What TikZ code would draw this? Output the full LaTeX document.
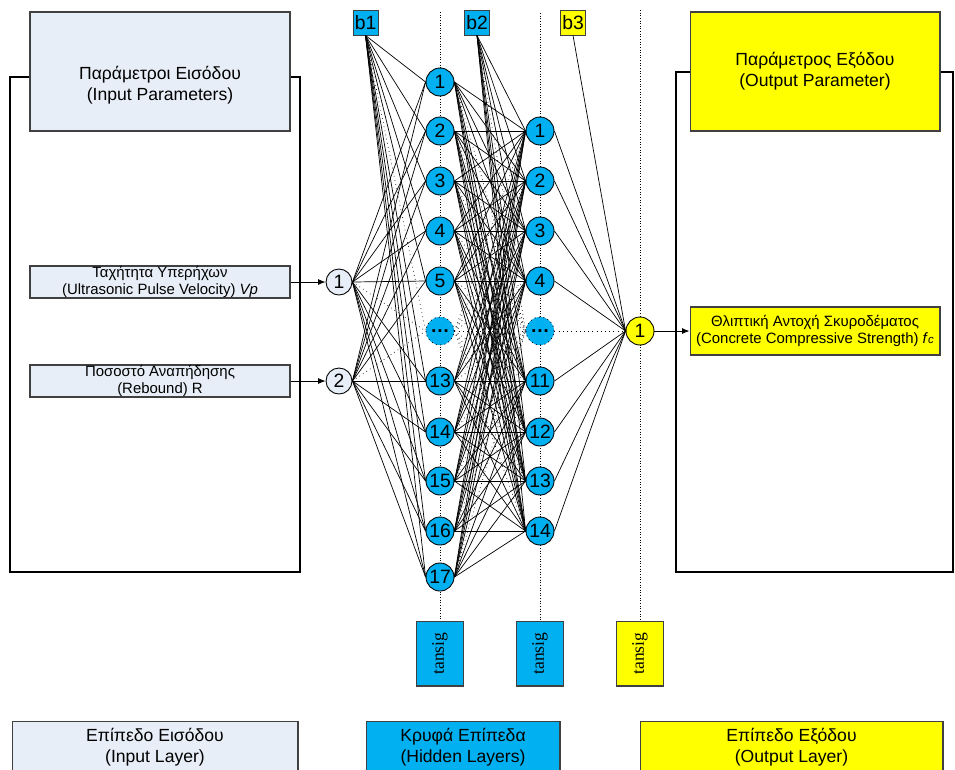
\documentclass[tikz,border=0pt]{standalone}
\usepackage{fontspec}
\setmainfont{Liberation Sans}
\newfontfamily\serifface{Liberation Serif}
\usepackage{xcolor}
\usetikzlibrary{arrows.meta, backgrounds}
\definecolor{paleblue}{HTML}{E8EEF7}
\definecolor{hiddenblue}{HTML}{00B0F0}
\definecolor{outyellow}{HTML}{FFFF00}

\begin{document}
\begin{tikzpicture}[
    x=0.02cm, y=-0.02cm,
    panel/.style={rectangle, draw=black!75, line width=0.6pt, inner sep=0pt, align=center, font=\fontsize{10}{12}\selectfont},
    param/.style={rectangle, draw=black!75, line width=0.6pt, inner sep=0pt, align=center, font=\fontsize{8.5}{9.5}\selectfont},
    neuron/.style={circle, draw=black, line width=0.5pt, fill=hiddenblue, minimum size=0.56cm, inner sep=0pt, font=\fontsize{11}{13}\selectfont},
    inneuron/.style={neuron, fill=paleblue, minimum size=0.52cm},
    bias/.style={rectangle, draw=black!75, line width=0.5pt, fill=hiddenblue, minimum size=0.5cm, inner sep=0pt, font=\fontsize{11}{13}\selectfont},
    tfbox/.style={rectangle, draw=black!75, line width=0.6pt, fill=hiddenblue, minimum width=0.94cm, minimum height=1.3cm, inner sep=0pt},
    link/.style={line width=0.4pt},
    plain/.style={},
    arrow/.style={-{Latex[length=1.5mm, width=1.2mm]}, line width=0.5pt}
]
\useasboundingbox (0,0) rectangle (955,769);

% outer frames
\draw[line width=0.6pt] (10,77) rectangle (300,572);
\draw[line width=0.6pt] (676,72) rectangle (953,572);

% parameter panels
\node[panel, fill=paleblue, minimum width=5.2cm, minimum height=2.38cm, text height=35pt] (inpar) at (160,71.5) {Παράμετροι Εισόδου\\(Input Parameters)};
\node[panel, fill=outyellow, minimum width=5cm, minimum height=2.38cm] (outpar) at (815,71.5) {Παράμετρος Εξόδου\\(Output Parameter)};

\node[param, fill=paleblue, minimum width=5.2cm, minimum height=0.64cm] (vp) at (160,282) {Ταχήτητα Υπερήχων\\(Ultrasonic Pulse Velocity) \textit{Vp}};
\node[param, fill=paleblue, minimum width=5.2cm, minimum height=0.64cm] (reb) at (160,381) {Ποσοστό Αναπήδησης\\(Rebound) R};
\node[param, fill=outyellow, minimum width=5cm, minimum height=0.96cm] (fc) at (815,331) {Θλιπτική Αντοχή Σκυροδέματος\\(Concrete Compressive Strength) \textit{f}{\fontsize{6.5}{7}\selectfont\textit{c}}};

% inputs and biases
\node[inneuron] (in1) at (339,282) {1};
\node[inneuron] (in2) at (339,381) {2};
\node[bias] (b1) at (365.5,22.5) {b1};
\node[bias] (b2) at (477,22.5) {b2};
\node[bias, fill=outyellow] (b3) at (573,22.5) {b3};

% hidden layers and output
\foreach \lbl/\yy/\st [count=\i] in {1/82/plain,2/131/plain,3/181/plain,4/231/plain,5/281/plain,{\textbf{\dots}}/331/dotted,13/381/plain,14/432/plain,15/481/plain,16/531/plain,17/577/plain}
    \node[neuron, \st] (h1-\i) at (440,\yy) {\lbl};
\foreach \lbl/\yy/\st [count=\i] in {1/131/plain,2/181/plain,3/231/plain,4/281/plain,{\textbf{\dots}}/331/dotted,11/381/plain,12/432/plain,13/481/plain,14/531/plain}
    \node[neuron, \st] (h2-\i) at (540,\yy) {\lbl};
\node[neuron, fill=outyellow] (out) at (640,331) {1};

% transfer functions
\node[tfbox] (tf1) at (440,653.5) {\rotatebox{90}{\serifface\fontsize{10}{12}\selectfont tansig}};
\node[tfbox] (tf2) at (540,653.5) {\rotatebox{90}{\serifface\fontsize{10}{12}\selectfont tansig}};
\node[tfbox, fill=outyellow] (tf3) at (640,653.5) {\rotatebox{90}{\serifface\fontsize{10}{12}\selectfont tansig}};

\coordinate (top1) at (440,12);
\coordinate (top2) at (540,13);
\coordinate (top3) at (640,10);

% legend
\node[panel, fill=paleblue, minimum width=5.72cm, minimum height=1.04cm] (leg1) at (155,747) {Επίπεδο Εισόδου\\(Input Layer)};
\node[panel, fill=hiddenblue, minimum width=3.88cm, minimum height=1.04cm] (leg2) at (463,747) {Κρυφά Επίπεδα\\(Hidden Layers)};
\node[panel, fill=outyellow, minimum width=6.06cm, minimum height=1.04cm] (leg3) at (791.5,747) {Επίπεδο Εξόδου\\(Output Layer)};

\begin{scope}[on background layer]
\draw[densely dotted, line width=0.5pt] (top1) -- (tf1.north);
\draw[densely dotted, line width=0.5pt] (top2) -- (tf2.north);
\draw[densely dotted, line width=0.5pt] (top3) -- (tf3.north);
\end{scope}

% connections
\foreach \i/\si in {1/plain,2/plain,3/plain,4/plain,5/plain,6/dotted,7/plain,8/plain,9/plain,10/plain,11/plain} {
    \draw[link, \si] (in1.east) -- (h1-\i.west);
    \draw[link, \si] (in2.east) -- (h1-\i.west);
    \draw[link, \si] (b1.south) -- (h1-\i.west);
    \foreach \j/\sj in {1/plain,2/plain,3/plain,4/plain,5/dotted,6/plain,7/plain,8/plain,9/plain}
        \draw[link, \si, \sj] (h1-\i.east) -- (h2-\j.west);
}
\foreach \j/\sj in {1/plain,2/plain,3/plain,4/plain,5/dotted,6/plain,7/plain,8/plain,9/plain} {
    \draw[link, \sj] (b2.south) -- (h2-\j.west);
    \draw[link, \sj] (h2-\j.east) -- (out.west);
}
\draw[link] (b3.south) -- (out.west);

\draw[arrow] (vp) -- (in1);
\draw[arrow] (reb) -- (in2);
\draw[arrow] (out) -- (fc);
\end{tikzpicture}
\end{document}
